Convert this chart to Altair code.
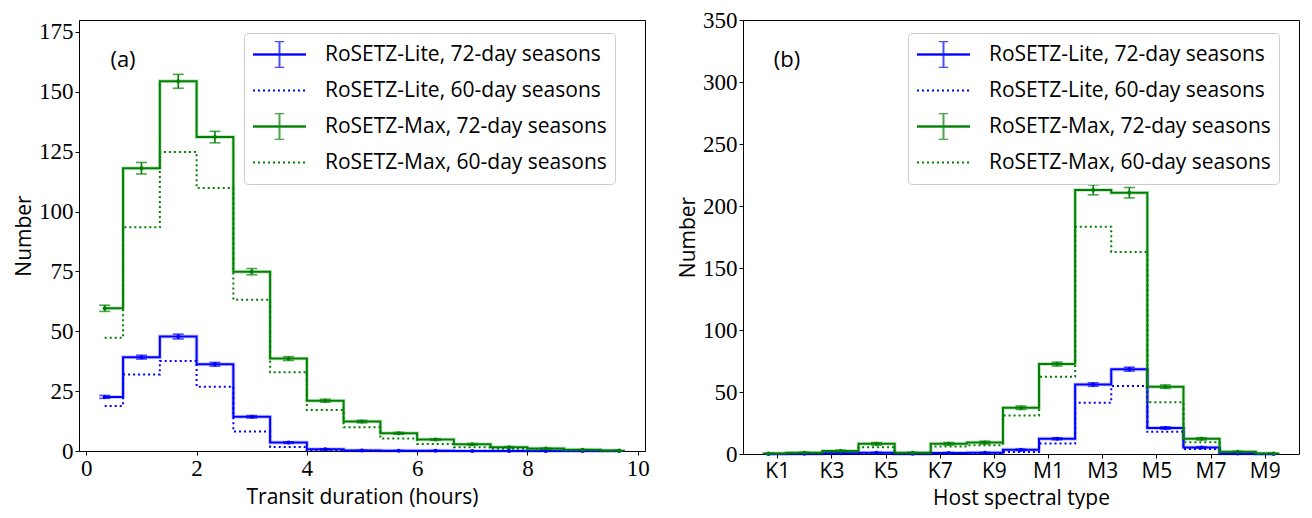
import altair as alt
import pandas as pd

# ---------------- data ----------------
series_names = [
    "RoSETZ-Lite, 72-day seasons",
    "RoSETZ-Lite, 60-day seasons",
    "RoSETZ-Max, 72-day seasons",
    "RoSETZ-Max, 60-day seasons",
]
series_colors = ["#0000ff", "#0000ff", "#008000", "#008000"]
series_dash = [[1, 0], [2, 3], [1, 0], [2, 3]]
series_has_err = [True, False, True, False]

# (a) transit duration (hours), bin centres
dur_centers = [0.333, 1.0, 1.667, 2.333, 3.0, 3.667, 4.333, 5.0, 5.667, 6.333, 7.0, 7.667, 8.333, 9.0, 9.667]
dur_lite72 = [22.6, 39.2, 47.8, 36.2, 14.3, 3.5, 0.7, 0.2, 0.1, 0.1, 0.05, 0.05, 0.0, 0.0, 0.0]
dur_lite72_err = [0.6, 0.8, 1.0, 0.8, 0.5, 0.3, 0.2, 0.1, 0.1, 0.1, 0.0, 0.0, 0.0, 0.0, 0.0]
dur_lite60 = [18.8, 32.0, 37.6, 26.8, 8.1, 1.7, 0.3, 0.1, 0.0, 0.0, 0.0, 0.0, 0.0, 0.0, 0.0]
dur_max72 = [59.6, 118.1, 154.4, 131.1, 74.9, 38.6, 21.0, 12.3, 7.4, 4.8, 2.8, 1.6, 1.0, 0.5, 0.2]
dur_max72_err = [1.3, 2.4, 2.9, 2.4, 1.3, 0.8, 0.6, 0.5, 0.4, 0.3, 0.3, 0.2, 0.2, 0.1, 0.1]
dur_max60 = [47.3, 93.4, 124.9, 109.8, 63.2, 32.9, 17.1, 9.9, 5.2, 2.9, 1.6, 0.9, 0.4, 0.2, 0.1]
dur_xticks = [0, 2, 4, 6, 8, 10]
dur_yticks = [0, 25, 50, 75, 100, 125, 150, 175]

# (b) host spectral type (K0 = 0 ... M9 = 19), bin centres
spt_centers = [0.667, 2.0, 3.333, 4.667, 6.0, 7.333, 8.667, 10.0, 11.333, 12.667, 14.0, 15.333, 16.667, 18.0, 19.333]
spt_lite72 = [0.1, 0.2, 0.6, 1.0, 0.2, 0.9, 1.0, 3.4, 12.3, 56.0, 68.4, 21.0, 5.3, 0.5, 0.1]
spt_lite72_err = [0.1, 0.1, 0.2, 0.3, 0.1, 0.3, 0.3, 0.5, 0.8, 1.4, 1.6, 0.9, 0.5, 0.2, 0.1]
spt_lite60 = [0.1, 0.2, 1.6, 0.8, 0.2, 0.7, 0.8, 1.6, 8.4, 41.3, 54.8, 17.9, 4.0, 0.3, 0.1]
spt_max72 = [0.5, 1.0, 2.5, 8.2, 1.0, 8.3, 9.2, 37.3, 72.5, 213.0, 210.7, 54.3, 12.2, 1.8, 0.5]
spt_max72_err = [0.3, 0.4, 0.6, 1.0, 0.4, 1.0, 1.1, 1.4, 1.6, 4.0, 4.2, 1.4, 0.9, 0.4, 0.3]
spt_max60 = [0.4, 0.8, 1.9, 5.4, 0.7, 6.1, 7.0, 31.1, 62.2, 183.3, 163.0, 41.8, 9.5, 1.4, 0.4]
spt_tick_values = [1, 3, 5, 7, 9, 11, 13, 15, 17, 19]
spt_tick_labels = ["K1", "K3", "K5", "K7", "K9", "M1", "M3", "M5", "M7", "M9"]
spt_yticks = [0, 50, 100, 150, 200, 250, 300, 350]

# second key (trailing space) so the error-bar legend overlay is not merged
series_keys2 = [s + " " for s in series_names]
errbar_legend_colors = [c if e else "transparent" for c, e in zip(series_colors, series_has_err)]

SANS = "Open Sans"
SERIF = "Liberation Serif"


def table(centers, vals, errs):
    rows = []
    for name, name2, v, e in zip(series_names, series_keys2, vals, errs):
        for i, c in enumerate(centers):
            err = e[i] if e is not None else 0.0
            rows.append({"series": name, "series2": name2, "x": c, "y": v[i],
                         "lo": v[i] - err, "hi": v[i] + err, "order": i})
    return pd.DataFrame(rows)


EB = "M-1,0H1M0,-0.5V0.5M-0.18,-0.5H0.18M-0.18,0.5H0.18"
LINE = "M-1,0H1"


def make_legend(symbol, overlay):
    kw = dict(
        title=None, orient="none", legendX=165, legendY=13,
        symbolType=symbol, symbolSize=2809, symbolStrokeWidth=2,
        clipHeight=27, rowPadding=9, padding=8,
        labelFont=SANS, labelFontSize=21, labelColor="black",
        labelOffset=18, labelLimit=500,
    )
    if overlay:
        kw.update(labelOpacity=0, zindex=2)
    else:
        kw.update(fillColor="white", strokeColor="#cccccc", cornerRadius=4, zindex=1)
    return alt.Legend(**kw)


def panel(df, xdom, ydom, xax, yax, tag, width, height):
    xs = alt.Scale(domain=xdom, nice=False, zero=False)
    ys = alt.Scale(domain=ydom, nice=False, zero=False)
    X = alt.X("x:Q", scale=xs, axis=xax)
    Y = alt.Y("y:Q", scale=ys, axis=yax)
    layers = []
    # light halo under the 72-day curves
    for name, col, he in zip(series_names, series_colors, series_has_err):
        if not he:
            continue
        sub = df[df.series == name]
        layers.append(alt.Chart(sub).mark_line(interpolate="step", strokeWidth=4,
                                               opacity=0.2, color=col)
                      .encode(x=X, y=Y, order="order:Q"))
    legA = make_legend(LINE, False)
    layers.append(
        alt.Chart(df).mark_line(interpolate="step", strokeWidth=2).encode(
            x=X, y=Y,
            color=alt.Color("series:N", scale=alt.Scale(domain=series_names, range=series_colors), legend=legA),
            strokeDash=alt.StrokeDash("series:N", scale=alt.Scale(domain=series_names, range=series_dash), legend=legA),
            order="order:Q",
        )
    )
    for name, col, he in zip(series_names, series_colors, series_has_err):
        if not he:
            continue
        sub = df[df.series == name]
        layers.append(alt.Chart(sub).mark_errorbar(
            color=col, thickness=1.6,
            ticks=alt.MarkConfig(size=11, color=col)).encode(
            x=X, y=alt.Y("lo:Q", scale=ys, axis=yax), y2=alt.Y2("hi:Q")))
        layers.append(alt.Chart(sub).mark_circle(size=16, color=col, opacity=1).encode(x=X, y=Y))
    # empty layer that only supplies the error-bar legend symbols (overlaid)
    legB = make_legend(EB, True)
    layers.append(
        alt.Chart(df).transform_filter("false").mark_point().encode(
            x=X, y=Y,
            stroke=alt.Stroke("series2:N", scale=alt.Scale(domain=series_keys2, range=errbar_legend_colors),
                              legend=legB),
        )
    )
    layers.append(alt.Chart(pd.DataFrame({"t": [tag]})).mark_text(
        font=SANS, fontSize=22, color="black", align="center", baseline="middle")
        .encode(x=alt.value(44), y=alt.value(40), text="t:N"))
    return alt.layer(*layers).properties(width=width, height=height)


dur_df = table(dur_centers, [dur_lite72, dur_lite60, dur_max72, dur_max60],
               [dur_lite72_err, None, dur_max72_err, None])
spt_df = table(spt_centers, [spt_lite72, spt_lite60, spt_max72, spt_max60],
               [spt_lite72_err, None, spt_max72_err, None])

left = panel(
    dur_df, [-0.133, 10.133], [0, 180],
    alt.Axis(values=dur_xticks, title="Transit duration (hours)", format="d", titlePadding=6),
    alt.Axis(values=dur_yticks, title="Number"),
    "(a)", 566, 431,
)

label_expr = ("[" + ",".join("'%s'" % s for s in spt_tick_labels) + "][indexof(["
              + ",".join(str(v) for v in spt_tick_values) + "], datum.value)]")
right = panel(
    spt_df, [-0.267, 20.267], [0, 350],
    alt.Axis(values=spt_tick_values, title="Host spectral type", labelExpr=label_expr,
             labelFont=SANS, labelFontSize=21, titlePadding=6),
    alt.Axis(values=spt_yticks, title="Number"),
    "(b)", 556, 434,
)

chart = (
    alt.hconcat(left, right, spacing=27)
    .resolve_scale(color="independent", strokeDash="independent", stroke="independent")
    .resolve_legend(color="independent", strokeDash="independent", stroke="independent")
    .properties(padding={"left": 5, "top": 0, "right": 0, "bottom": 0})
    .configure_view(stroke="black", strokeWidth=1)
    .configure_axis(
        labelFont=SERIF, labelFontSize=23, labelColor="black",
        titleFont=SANS, titleFontSize=21, titleColor="black", titleFontWeight="normal",
        tickColor="black", tickSize=4, tickWidth=1, domain=False, grid=False,
        labelPadding=2, titlePadding=4,
    )
)

chart.save("out.html", embed_options={"renderer": "svg", "actions": False})
